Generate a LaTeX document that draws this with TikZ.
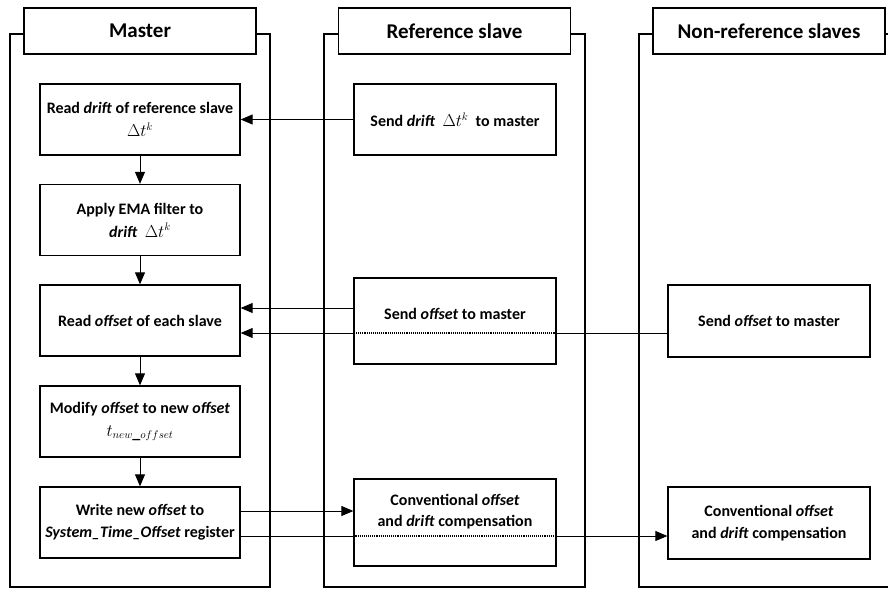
\documentclass[tikz,border=0pt]{standalone}
\usepackage{fontspec}
\setmainfont{Carlito}
\usetikzlibrary{arrows.meta}
\begin{document}
\begin{tikzpicture}[x=1pt,y=-1pt,
  lane/.style={draw,line width=1.3pt},
  head/.style={draw,fill=white,line width=1.3pt,minimum width=232pt,minimum height=46pt,font=\fontsize{21}{24}\selectfont\bfseries},
  stepbox/.style={draw,fill=white,line width=1.3pt,minimum width=200pt,minimum height=71pt,align=center,font=\fontsize{16}{22}\selectfont\bfseries},
  txt/.style={align=center,font=\fontsize{16}{21}\selectfont\bfseries},
  arr/.style={line width=0.9pt,-{Triangle[length=12pt,width=10pt]}},
  ln/.style={line width=0.9pt},
  dot/.style={line width=1.1pt,densely dotted}]
\clip (0,0) rectangle (888,589);
\useasboundingbox (0,0) rectangle (888,589);
% lanes
\draw[lane] (10,34) rectangle (270,587);
\draw[lane] (324,34) rectangle (585,587);
\draw[lane] (639,34) rectangle (900,587);
\node[head] (hM) at (140,31) {Master};
\node[head] (hR) at (454.5,31) {Reference slave};
\node[head] (hN) at (769,31) {Non-reference slaves};
% master steps
\node[stepbox] (M1) at (140,119.5) {Read \textit{drift} of reference slave\\[1pt]$\Delta t^{k}$};
\node[stepbox] (M2) at (140,220) {Apply EMA filter to\\[1pt]\textit{drift}~ $\Delta t^{k}$};
\node[stepbox] (M3) at (140,320.5) {Read \textit{offset} of each slave};
\node[stepbox] (M4) at (140,421.5) {Modify \textit{offset} to new \textit{offset}\\[1pt]$t_{new\_offset}$};
\node[stepbox] (M5) at (140,522.5) {Write new \textit{offset} to\\\textit{System\_Time\_Offset} register};
% reference slave
\node[stepbox,minimum width=202pt] (A) at (455,119.5) {Send \textit{drift}~ $\Delta t^{k}$ ~to master};
\node[stepbox,minimum width=202pt,minimum height=86pt] (B) at (455,321) {};
\node[txt] (Bt) at (455,314) {Send \textit{offset} to master};
\node[stepbox,minimum width=202pt,minimum height=87pt] (C) at (455,522.5) {};
\node[txt] (Ct) at (455,511.5) {Conventional \textit{offset}\\and \textit{drift} compensation};
% non-reference slaves
\node[stepbox,minimum width=202pt,minimum height=72pt] (D) at (769,321) {Send \textit{offset} to master};
\node[stepbox,minimum width=202pt,minimum height=72pt] (E) at (769,523) {Conventional \textit{offset}\\and \textit{drift} compensation};
% flow in master
\draw[arr] (M1) -- (M2);
\draw[arr] (M2) -- (M3);
\draw[arr] (M3) -- (M4);
\draw[arr] (M4) -- (M5);
% messages
\draw[arr] (A.west) -- (M1.east);
\coordinate (ya) at (0,308);
\coordinate (yb) at (0,333);
\coordinate (yc) at (0,511);
\coordinate (yd) at (0,536);
\draw[arr] (ya -| B.west) -- (ya -| M3.east);
\draw[ln] (yb -| D.west) -- (yb -| B.east);
\draw[dot] (yb -| B.east) -- (yb -| B.west);
\draw[arr] (yb -| B.west) -- (yb -| M3.east);
\draw[arr] (yc -| M5.east) -- (yc -| C.west);
\draw[ln] (yd -| M5.east) -- (yd -| C.west);
\draw[dot] (yd -| C.west) -- (yd -| C.east);
\draw[arr] (yd -| C.east) -- (yd -| E.west);
\end{tikzpicture}
\end{document}
